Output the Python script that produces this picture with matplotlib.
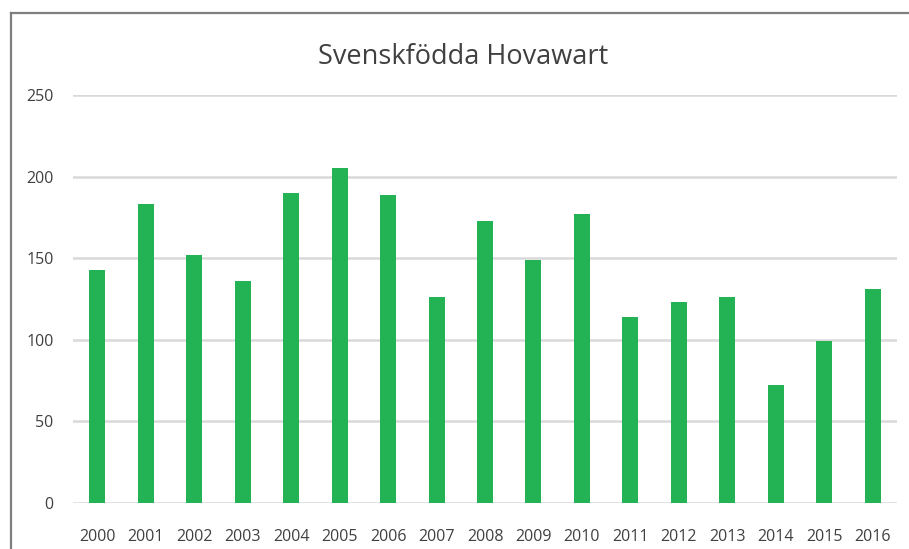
import matplotlib
matplotlib.use("Agg")
import matplotlib.pyplot as plt
from matplotlib.lines import Line2D

years = ["2000", "2001", "2002", "2003", "2004", "2005", "2006", "2007", "2008",
         "2009", "2010", "2011", "2012", "2013", "2014", "2015", "2016"]
counts = [143, 183, 152, 136, 190, 205, 189, 126, 173, 149, 177, 114, 123, 126, 72, 99, 131]
yticks = [0, 50, 100, 150, 200, 250]
title = "Svenskfödda Hovawart"

plt.rcParams['font.family'] = ['Open Sans', 'DejaVu Sans']

W, H = 909, 549
fig = plt.figure(figsize=(W / 100, H / 100), dpi=100)
ax = fig.add_axes([73 / W, 1 - 503 / H, (897 - 73) / W, (503 - 95) / H])

x = list(range(len(years)))
ax.bar(x, counts, width=0.33, color="#23b254", zorder=3)
ax.set_xlim(-0.5, len(years) - 0.5)
ax.set_ylim(0, 250)
ax.set_yticks(yticks)
ax.set_xticks(x)
ax.set_xticklabels(years)
ax.grid(axis="y", color="#d9d9d9", linewidth=1.8, zorder=0)
for s in ax.spines.values():
    s.set_visible(False)
ax.tick_params(axis="both", length=0, labelsize=11.5, colors="#404040")
ax.tick_params(axis="y", pad=14)
ax.tick_params(axis="x", pad=19)

fig.text(463 / W, 1 - 57 / H, title, ha="center", va="center", fontsize=19.5, color="#404040")

# outer frame (left and top edges visible)
fig.add_artist(Line2D([11 / W, 11 / W], [0, 1 - 13 / H], transform=fig.transFigure,
                      color="#7f7f7f", linewidth=1.6))
fig.add_artist(Line2D([11 / W, 1], [1 - 13 / H, 1 - 13 / H], transform=fig.transFigure,
                      color="#7f7f7f", linewidth=1.6))

fig.savefig("out.png", dpi=100)
